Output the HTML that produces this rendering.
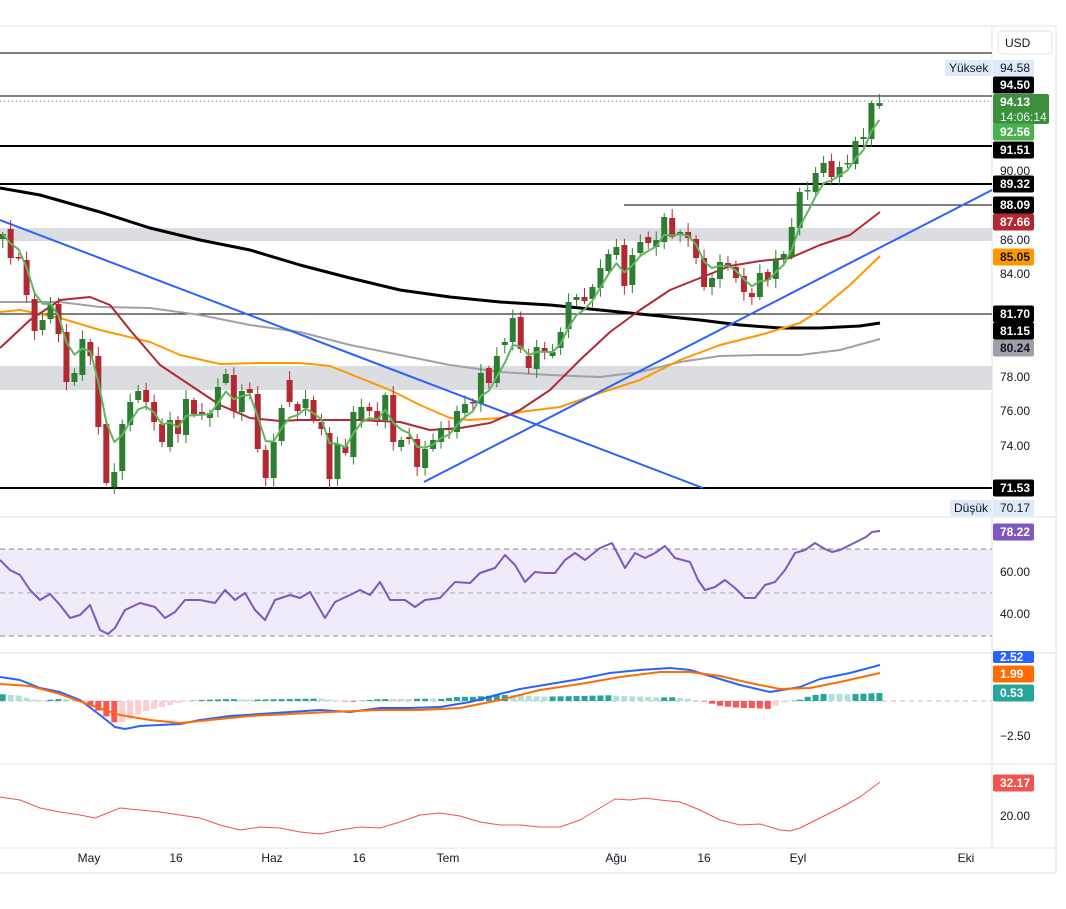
<!DOCTYPE html>
<html><head><meta charset="utf-8"><style>
body{margin:0;background:#fff;}
svg{display:block;font-family:"Liberation Sans",sans-serif;}
</style></head><body>
<svg id="s" width="1066" height="909" viewBox="0 0 1066 909"></svg>
<script>
const s=document.getElementById('s');let h='';
function P(pts){return pts.map(p=>p.join(',')).join(' ');}
function pl(pts,c,w,extra){h+=`<polyline points="${P(pts)}" fill="none" stroke="${c}" stroke-width="${w}" stroke-linejoin="round" ${extra||''}/>`;}
function ln(x1,y1,x2,y2,c,w,extra){h+=`<line x1="${x1}" y1="${y1}" x2="${x2}" y2="${y2}" stroke="${c}" stroke-width="${w}" ${extra||''}/>`;}
function rect(x,y,w,hh,c){h+=`<rect x="${x}" y="${y}" width="${w}" height="${hh}" fill="${c}"/>`;}
function txt(x,y,t,c,sz,anchor,wt){h+=`<text x="${x}" y="${y}" fill="${c}" font-size="${sz||12}" text-anchor="${anchor||'start'}" font-weight="${wt||'normal'}">${t}</text>`;}
rect(0,0,1066,909,'#fff');
ln(0,26,1056,26,'#e0e3eb',1);ln(1056,26,1056,873,'#e0e3eb',1);ln(0,873,1056,873,'#e0e3eb',1);
ln(992,26,992,848,'#e0e3eb',1);
[517,653,764,848].forEach(y=>ln(0,y,1056,y,'#e0e3eb',1));
rect(0,228,992,13,'#dcdde0');rect(0,366,992,24,'#dcdde0');
rect(0,549,992,87,'#efebf8');
ln(0,549,992,549,'#888',1,'stroke-dasharray="5,4"');ln(0,593,992,593,'#aaa',1,'stroke-dasharray="5,4"');ln(0,636,992,636,'#888',1,'stroke-dasharray="5,4"');
ln(0,701,992,701,'#bbb',1,'stroke-dasharray="5,4"');
ln(0,53,992,53,'#000',1);ln(0,96,992,96,'#000',1);ln(0,101,992,101,'#43a047',1,'stroke-dasharray="1,3"');
ln(0,146,992,146,'#000',2);ln(0,184,992,184,'#000',2);ln(624,205,992,205,'#000',1);ln(0,314,992,314,'#000',1);ln(0,488,992,488,'#000',2);
pl([[0,302],[60,302],[100,307],[150,308],[200,315],[250,325],[300,332],[350,345],[400,355],[450,365],[500,372],[550,375],[600,377],[640,372],[680,362],[720,356],[760,355],[800,355],[840,350],[880,339]],'#a0a0a8',2);
pl([[0,188],[40,195],[100,212],[150,228],[200,240],[250,250],[300,265],[350,278],[400,290],[450,297],[500,302],[550,305],[600,310],[650,315],[700,320],[740,325],[780,328],[820,328],[860,326],[880,323]],'#000',3);
pl([[0,312],[20,310],[60,318],[100,330],[150,342],[180,355],[220,364],[260,363],[300,363],[330,366],[360,378],[390,390],[420,405],[450,418],[470,420],[500,418],[520,412],[560,407],[600,393],[640,380],[680,360],[720,345],[760,335],[800,323],[820,310],[850,285],[880,256]],'#ff9800',2);
pl([[0,348],[30,320],[60,300],[90,297],[110,305],[130,330],[160,365],[190,385],[220,405],[250,418],[280,421],[300,420],[330,420],[360,420],[400,422],[430,430],[460,428],[490,423],[520,410],[550,390],[580,360],[610,332],[640,310],[670,290],[700,278],[730,266],[760,261],[790,258],[820,245],[850,235],[880,212]],'#b22833',2);
ln(0,220,703,488,'#2962ff',2);ln(424,482,992,190,'#2962ff',2);
const C=[[239,234],[229,258],[257,258],[260,295],[299,331],[330,320],[319,304],[304,334],[332,382],[382,373],[375,339],[342,356],[356,427],[424,483],[487,472],[471,424],[425,402],[400,391],[390,402],[402,422],[424,442],[447,420],[420,434],[435,399],[400,414],[412,414],[418,413],[410,387],[383,374],[375,411],[412,391],[389,393],[394,449],[450,478],[478,442],[441,408],[380,402],[404,411],[408,399],[400,420],[422,429],[433,479],[479,444],[446,453],[457,412],[419,407],[407,411],[411,422],[420,395],[395,442],[447,440],[437,439],[439,467],[468,449],[449,440],[442,428],[428,430],[432,411],
[413,404],[402,403],[403,373],[368,383],[383,356],[345,342],[342,318],[317,349],[356,368],[369,347],[348,352],[356,352],[348,332],[329,302],[300,297],[297,301],[299,287],[288,268],[271,254],[255,247],[245,286],[285,255],[253,242],[237,243],[247,240],[242,217],[218,237],[235,232],[232,238],[239,258],[258,287],[287,278],[279,262],[263,266],[267,278],[276,292],[293,297],[297,273],[272,280],[279,259],[259,254],[257,227],[228,192],[191,190],[192,173],[173,163],[161,177],[177,167],[164,163],[164,141],[139,137],[139,103],[106,103]];
let g=[],e=C[0][1];
C.forEach((c,i)=>{const x=2.7+7.97*i;const o=c[0],cl=c[1];const up=cl<=o;const col=up?'#2e7d32':'#b22833';
 const top=Math.min(o,cl),bot=Math.max(o,cl);const wt=2+Math.abs(Math.sin(i*1.7))*7,wb=2+Math.abs(Math.cos(i*2.3))*7;
 ln(x,top-wt,x,bot+wb,col,1);rect(x-3,top,6,Math.max(1.5,bot-top),col);
 e=e+0.4*(cl-e);g.push([x.toFixed(1),e.toFixed(1)]);});
pl(g,'#5cb85c',2);
pl([[0,560],[10,570],[20,575],[30,590],[40,600],[50,594],[60,605],[70,618],[80,615],[90,605],[100,630],[108,634],[115,628],[125,610],[140,603],[155,607],[165,618],[175,612],[185,600],[200,600],[215,603],[225,590],[235,600],[245,593],[255,610],[265,620],[275,600],[290,595],[300,598],[310,592],[325,618],[335,602],[350,595],[360,590],[370,595],[380,582],[390,600],[405,600],[415,607],[425,600],[440,598],[455,582],[470,583],[480,573],[495,568],[505,555],[515,565],[525,582],[535,572],[545,573],[555,573],[565,560],[575,553],[585,560],[600,548],[612,543],[625,568],[635,553],[645,558],[655,553],[665,546],[675,558],[690,562],[698,580],[705,590],[715,587],[725,580],[735,588],[745,598],[755,598],[765,585],[775,582],[785,570],[795,553],[805,550],[815,543],[825,549],[832,552],[840,550],[850,545],[858,541],[866,537],[872,532],[880,531]],'#7e57c2',2);
const B=[[0,677],[20,680],[40,688],[60,692],[80,700],[100,715],[115,727],[125,729],[140,726],[160,725],[180,724],[200,720],[230,716],[260,714],[290,712],[320,710],[350,712],[380,708],[410,708],[440,707],[470,702],[500,694],[520,689],[550,684],[580,679],[610,673],[640,670],[670,668],[690,670],[710,676],[740,685],[770,692],[800,687],[820,679],[850,673],[880,665]];
const O=[[0,684],[30,686],[60,694],[90,705],[120,715],[150,720],[180,723],[210,720],[250,716],[290,714],[330,712],[380,710],[420,710],[460,708],[500,700],[540,690],[580,684],[620,677],[660,672],[690,672],[720,676],[750,683],[780,689],[810,688],[840,682],[880,673]];
function at(a,x){for(let i=1;i<a.length;i++){if(x<=a[i][0]){const t=(x-a[i-1][0])/(a[i][0]-a[i-1][0]);return a[i-1][1]+t*(a[i][1]-a[i-1][1]);}}return a[a.length-1][1];}
let prev=0;
for(let i=0;i<111;i++){const x=2.7+7.97*i;let d=at(O,x)-at(B,x);if(d<0)d*=1.6;const up=d>=0;const inc=d>prev;
 const col=up?(inc?'#26a69a':'#b2dfdb'):(inc?'#ffcdd2':'#ff5252');
 if(up)rect(x-3,701-d,6,d,col);else rect(x-3,701,6,-d,col);prev=d;}
pl(B,'#2962ff',2);pl(O,'#ff6d00',2);
pl([[0,797],[20,800],[40,808],[60,812],[80,815],[95,818],[110,812],[120,808],[140,810],[160,812],[180,815],[200,818],[220,825],[240,830],[260,827],[280,828],[300,832],[320,834],[340,830],[360,827],[380,828],[400,822],[420,815],[440,813],[460,816],[480,822],[500,825],[520,825],[540,827],[560,827],[580,820],[600,808],[615,799],[630,800],[645,798],[660,800],[680,802],[700,810],[720,820],[740,825],[760,824],[780,830],[790,831],[800,828],[820,818],[840,808],[860,797],[880,782]],'#f05350',1);
[[171,'90.00'],[240,'86.00'],[274,'84.00'],[377,'78.00'],[411,'76.00'],[446,'74.00'],[572,'60.00'],[614,'40.00'],[736,'−2.50'],[816,'20.00']].forEach(a=>txt(1000,a[0]+4,a[1],'#131722',12));
function lab(y,t,bg,fg,hh){hh=hh||17;h+=`<rect x="993" y="${y-hh/2}" width="41" height="${hh}" rx="2" fill="${bg}"/>`;txt(1000,y+4,t,fg,12,'start','bold');}
h+=`<rect x="945" y="60" width="46" height="16" rx="2" fill="#dfeaf9"/>`;txt(949,72,'Yüksek','#131722',12);
h+=`<rect x="993" y="60" width="41" height="16" fill="#dfeaf9"/>`;txt(1000,72,'94.58','#131722',12);
lab(85,'94.50','#000','#fff');
h+=`<rect x="993" y="94" width="56" height="30" rx="2" fill="#3d8f3d"/>`;txt(1000,106,'94.13','#fff',12,'start','bold');txt(1000,121,'14:06:14','#dfe','12');
lab(132,'92.56','#4caf50','#fff');lab(150,'91.51','#000','#fff');lab(184,'89.32','#000','#fff');lab(205,'88.09','#000','#fff');
lab(222,'87.66','#b22833','#fff');lab(257,'85.05','#ff9800','#131722');lab(314,'81.70','#000','#fff');lab(331,'81.15','#000','#fff');lab(348,'80.24','#9ea0a8','#131722');
lab(488,'71.53','#000','#fff');
h+=`<rect x="950" y="500" width="41" height="16" rx="2" fill="#dfeaf9"/>`;txt(954,512,'Düşük','#131722',12);
h+=`<rect x="993" y="500" width="41" height="16" fill="#dfeaf9"/>`;txt(1000,512,'70.17','#131722',12);
lab(532,'78.22','#7e57c2','#fff');lab(657,'2.52','#2962ff','#fff',12);lab(674,'1.99','#ff6d00','#fff');lab(693,'0.53','#26a69a','#fff');lab(783,'32.17','#f05350','#fff');
h+=`<rect x="998" y="31" width="54" height="23" rx="4" fill="#fff" stroke="#e0e3eb"/>`;txt(1005,47,'USD','#131722',12);
[[89,'May'],[176,'16'],[272,'Haz'],[359,'16'],[448,'Tem'],[616,'Ağu'],[704,'16'],[798,'Eyl'],[966,'Eki']].forEach(a=>txt(a[0],862,a[1],'#131722',12,'middle'));
s.innerHTML=h;
</script>
</body></html>
